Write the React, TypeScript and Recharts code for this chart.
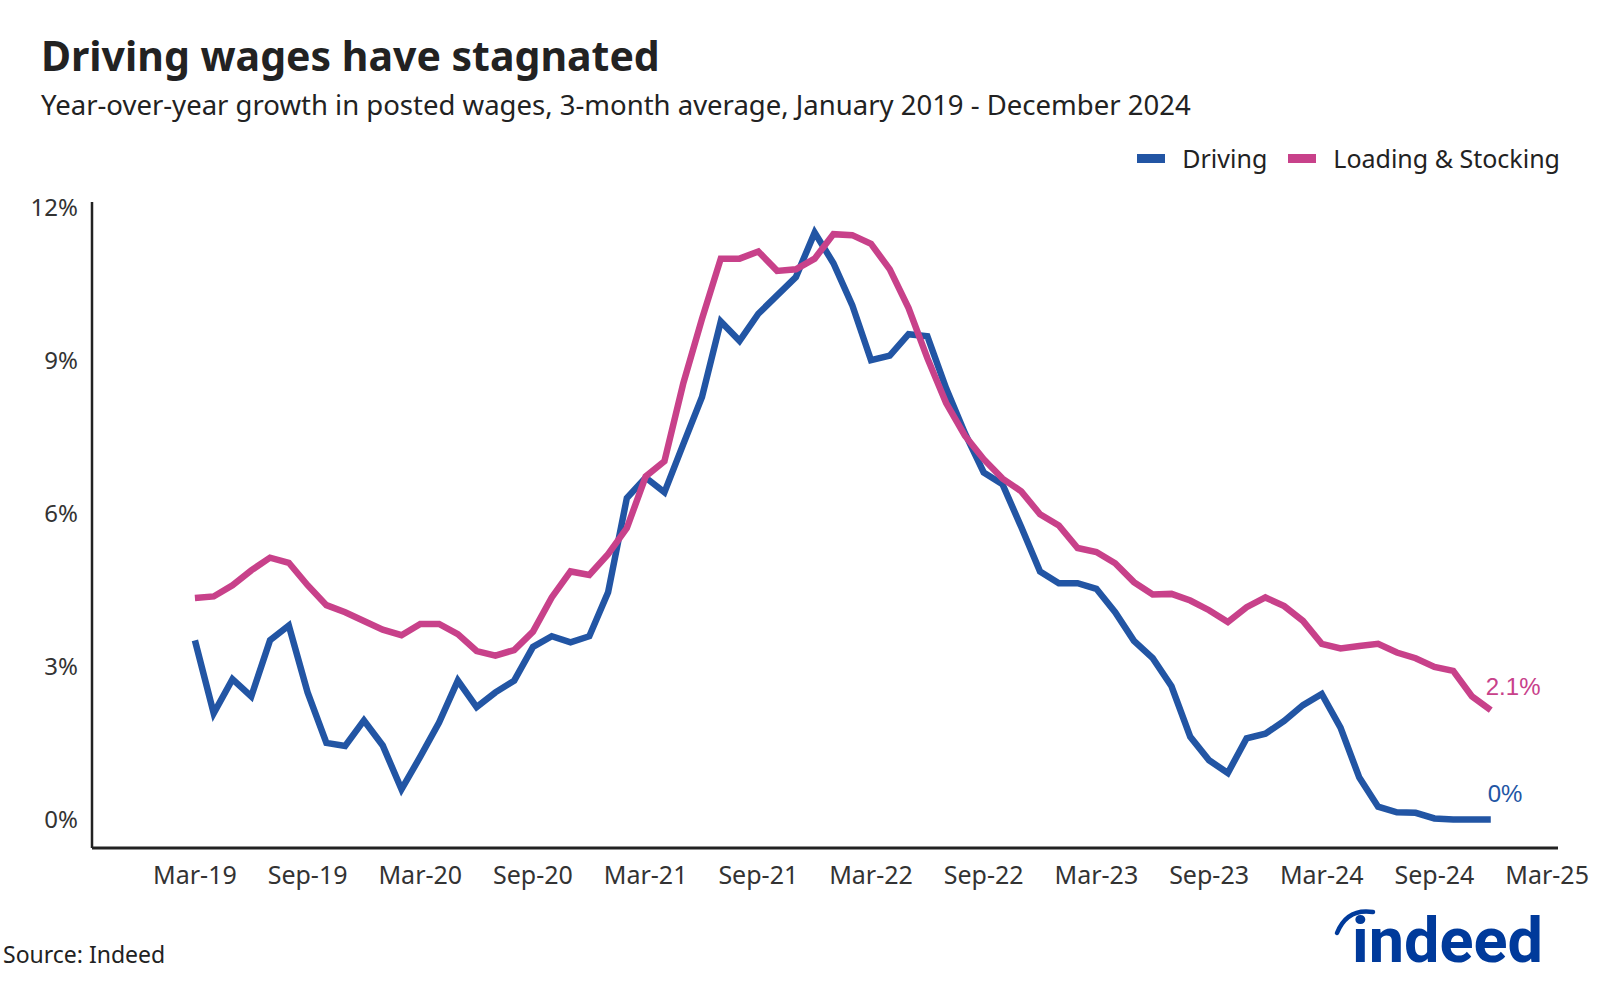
import { LineChart, Line, XAxis, YAxis } from 'recharts'

const monthNames = ['Jan', 'Feb', 'Mar', 'Apr', 'May', 'Jun', 'Jul', 'Aug', 'Sep', 'Oct', 'Nov', 'Dec']

// Mar-19 .. Dec-24, one point per month
const driving = [
  3.51, 2.08, 2.75, 2.41, 3.51, 3.8, 2.49, 1.5, 1.44, 1.94, 1.45, 0.59,
  1.23, 1.9, 2.72, 2.2, 2.49, 2.72, 3.38, 3.59, 3.47, 3.59, 4.45, 6.3,
  6.7, 6.41, 7.35, 8.28, 9.76, 9.38, 9.91, 10.27, 10.63, 11.5, 10.9, 10.08,
  9.0, 9.09, 9.51, 9.47, 8.45, 7.57, 6.8, 6.57, 5.73, 4.86, 4.63, 4.63,
  4.52, 4.06, 3.5, 3.16, 2.61, 1.62, 1.16, 0.91, 1.59, 1.68, 1.93, 2.24,
  2.46, 1.8, 0.82, 0.25, 0.14, 0.13, 0.02, 0, 0, 0,
]

const loading = [
  4.34, 4.37, 4.59, 4.88, 5.13, 5.03, 4.59, 4.2, 4.06, 3.89, 3.72, 3.61,
  3.83, 3.83, 3.63, 3.3, 3.21, 3.32, 3.68, 4.35, 4.86, 4.79, 5.2, 5.71,
  6.72, 7.02, 8.54, 9.81, 10.99, 10.99, 11.13, 10.75, 10.78, 10.99, 11.47, 11.45,
  11.28, 10.78, 10.02, 9.04, 8.16, 7.52, 7.06, 6.68, 6.43, 5.98, 5.76, 5.32,
  5.24, 5.02, 4.65, 4.41, 4.42, 4.29, 4.1, 3.87, 4.16, 4.35, 4.18, 3.89,
  3.44, 3.35, 3.4, 3.44, 3.27, 3.16, 2.99, 2.91, 2.41, 2.14,
]

const xTicks = [0, 6, 12, 18, 24, 30, 36, 42, 48, 54, 60, 66, 72]
const xTickLabels = ['Mar-19', 'Sep-19', 'Mar-20', 'Sep-20', 'Mar-21', 'Sep-21', 'Mar-22', 'Sep-22', 'Mar-23', 'Sep-23', 'Mar-24', 'Sep-24', 'Mar-25']
const yTicks = [0, 3, 6, 9, 12]

const BLUE = '#2255a4'
const PINK = '#c8418a'

const monthLabel = (i: number) => {
  const m = (2 + i) % 12
  const y = 19 + Math.floor((2 + i) / 12)
  return `${monthNames[m]}-${y}`
}

const data = driving.map((d, i) => ({ m: i, month: monthLabel(i), driving: d, loading: loading[i] }))
const last = data.length - 1

const fmtEnd = (v: number) => (v === 0 ? '0%' : `${v.toFixed(1)}%`)

const endLabel = (color: string, dx: number, dy: number) => (props: any) => {
  const { x, y, index, value } = props
  if (index !== last) return null
  return (
    <text x={x + dx} y={y + dy} fill={color} fontSize={24} fontFamily="'Liberation Sans', Arial, sans-serif">
      {fmtEnd(Number(value))}
    </text>
  )
}

const legendItems = [
  { name: 'Driving', color: BLUE },
  { name: 'Loading & Stocking', color: PINK },
]

function ChartLegend() {
  return (
    <div style={{ position: 'absolute', right: 40, top: 141, display: 'flex', alignItems: 'center', fontSize: 25, color: '#222' }}>
      {legendItems.map((it) => (
        <div key={it.name} style={{ display: 'flex', alignItems: 'center', marginLeft: 21 }}>
          <span style={{ display: 'inline-block', width: 28, height: 9, background: it.color, marginRight: 17 }} />
          <span>{it.name}</span>
        </div>
      ))}
    </div>
  )
}

export default function App() {
  return (
    <div style={{ position: 'absolute', left: 0, top: 0, width: 1600, height: 989, background: '#fff', fontFamily: "'Noto Sans', sans-serif" }}>
      <div style={{ position: 'absolute', left: 41, top: 27, fontSize: 41, fontWeight: 700, color: '#222', whiteSpace: 'nowrap' }}>
        Driving wages have stagnated
      </div>
      <div style={{ position: 'absolute', left: 41, top: 86, fontSize: 27.5, color: '#222', whiteSpace: 'nowrap' }}>
        Year-over-year growth in posted wages, 3-month average, January 2019 - December 2024
      </div>

      <ChartLegend />

      <div style={{ position: 'absolute', left: 0, top: 0 }}>
        <LineChart width={1600} height={989} data={data} margin={{ top: 202, right: 42, bottom: 81, left: 0 }}>
          <XAxis
            dataKey="m"
            type="number"
            domain={[-5.48, 72.58]}
            ticks={xTicks}
            tickFormatter={(v) => xTickLabels[xTicks.indexOf(v)]}
            tick={{ fontSize: 25, fill: '#333', fontFamily: "'Noto Sans', sans-serif" }}
            tickLine={false}
            tickSize={6}
            tickMargin={12}
            axisLine={{ stroke: '#222', strokeWidth: 3 }}
            height={60}
            interval={0}
          />
          <YAxis
            type="number"
            domain={[-0.56, 12.1]}
            ticks={yTicks}
            tickFormatter={(v) => `${v}%`}
            tick={{ fontSize: 24, fill: '#333', fontFamily: "'Noto Sans', sans-serif" }}
            tickLine={false}
            tickSize={6}
            tickMargin={8}
            axisLine={{ stroke: '#222', strokeWidth: 2.5 }}
            width={92}
            interval={0}
          />
          <Line
            type="linear"
            dataKey="driving"
            name="Driving"
            stroke={BLUE}
            strokeWidth={6.5}
            dot={false}
            activeDot={false}
            isAnimationActive={false}
            label={endLabel(BLUE, -3, -17)}
          />
          <Line
            type="linear"
            dataKey="loading"
            name="Loading & Stocking"
            stroke={PINK}
            strokeWidth={6.5}
            dot={false}
            activeDot={false}
            isAnimationActive={false}
            label={endLabel(PINK, -5, -15)}
          />
        </LineChart>
      </div>

      <div style={{ position: 'absolute', left: 3, top: 938, fontSize: 23, color: '#222', whiteSpace: 'nowrap' }}>
        Source: Indeed
      </div>

      <svg style={{ position: 'absolute', left: 1320, top: 890 }} width={260} height={90}>
        <path d="M 17 43 Q 27 18 53 22" fill="none" stroke="#003a9b" strokeWidth={4.5} strokeLinecap="round" />
        <text x={32} y={72} fill="#003a9b" fontSize={63} fontWeight={700} fontFamily="Roboto, sans-serif">
          indeed
        </text>
      </svg>
    </div>
  )
}
